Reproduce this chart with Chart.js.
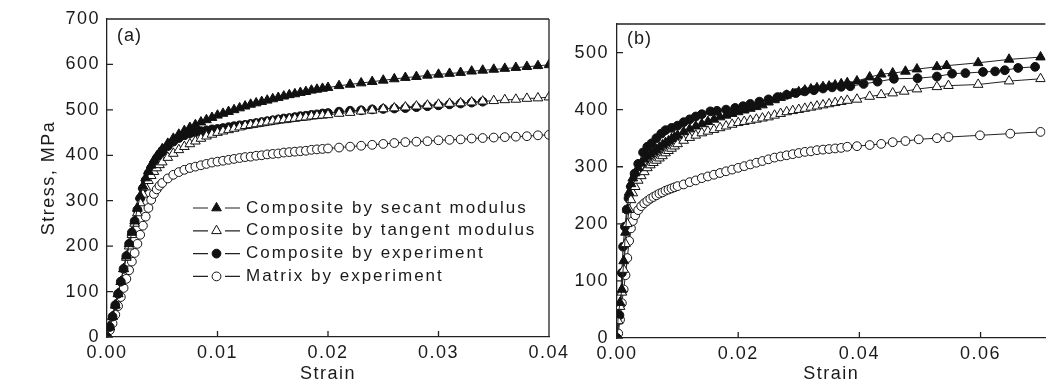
<!DOCTYPE html>
<html>
<head>
<meta charset="utf-8">
<script src="https://cdn.jsdelivr.net/npm/chart.js@4.4.1/dist/chart.umd.min.js"></script>
<style>
html, body { margin: 0; padding: 0; background: #fff; }
#wrap { position: relative; width: 1052px; height: 386px; overflow: hidden; }
canvas { position: absolute; top: 0; }
#chartA { left: 0; }
#chartB { left: 560px; }
</style>
</head>
<body>
<div id="wrap">
  <canvas id="chartA" width="590" height="386"></canvas>
  <canvas id="chartB" width="492" height="386"></canvas>
</div>
<script>
// ---- panel (a) data ----
const strainA = [0, 0.00025, 0.0005, 0.00075, 0.001, 0.00125, 0.0015, 0.00175, 0.002, 0.00225,
  0.0025, 0.00275, 0.003, 0.00325, 0.0035, 0.00375, 0.004, 0.00425, 0.0045, 0.00475,
  0.005, 0.0055, 0.006, 0.0065, 0.007, 0.0075, 0.008, 0.0085, 0.009, 0.0095,
  0.01, 0.0105, 0.011, 0.0115, 0.012, 0.0125, 0.013, 0.0135, 0.014, 0.0145,
  0.015, 0.0155, 0.016, 0.0165, 0.017, 0.0175, 0.018, 0.0185, 0.019, 0.0195,
  0.02, 0.021, 0.022, 0.023, 0.024, 0.025, 0.026, 0.027, 0.028, 0.029,
  0.03, 0.031, 0.032, 0.033, 0.034, 0.035, 0.036, 0.037, 0.038, 0.039, 0.04];
const secantA = [0, 22, 45, 70, 95, 122, 150, 178, 205, 230,
  255, 283, 310, 332, 350, 365, 378, 389, 398, 406,
  414, 426, 437, 446, 454, 461, 467, 473, 478, 483,
  488, 492, 496, 500, 504, 508, 512, 515, 518, 521,
  524, 527, 530, 533, 535, 538, 540, 543, 545, 547,
  549, 553, 556, 559, 562, 565, 568, 571, 573, 576,
  578, 580, 582, 585, 587, 589, 591, 593, 595, 597, 599];
const tangentA = [0, 22, 45, 70, 95, 122, 150, 175, 200, 225,
  250, 273, 295, 314, 330, 344, 355, 364, 372, 379,
  385, 395, 404, 412, 419, 425, 431, 437, 442, 446,
  450, 453, 456, 459, 462, 465, 467, 469, 471, 473,
  475, 477, 478, 480, 481, 483, 484, 486, 487, 488,
  489, 492, 494, 497, 499, 502, 504, 506, 508, 510,
  512, 514, 515, 517, 519, 520, 522, 523, 525, 526, 528];
// experiment stops at strain 0.034
const experimentA = [0, 22, 45, 70, 95, 122, 150, 178, 205, 230,
  255, 280, 305, 327, 345, 360, 372, 383, 393, 401,
  408, 420, 430, 438, 444, 448, 451, 453, 455, 457,
  458, 460, 462, 464, 466, 467, 469, 471, 473, 475,
  477, 479, 481, 482, 484, 486, 487, 489, 490, 492,
  493, 496, 498, 499, 501, 502, 503, 504, 506, 508,
  510, 512, 514, 516, 518];
const matrixA = [0, 15, 30, 49, 68, 88, 108, 128, 147, 166,
  185, 205, 225, 245, 265, 284, 302, 315, 325, 333,
  339, 349, 357, 363, 368, 372, 375, 378, 381, 384,
  386, 388, 390, 392, 394, 396, 397, 399, 400, 402,
  403, 404, 406, 407, 408, 409, 410, 412, 413, 414,
  415, 417, 419, 421, 423, 425, 427, 429, 430, 431,
  433, 434, 435, 437, 438, 439, 440, 441, 442, 444, 445];

// ---- panel (b) data ----
const strainB = [0, 0.0002, 0.0005, 0.0008, 0.0011, 0.0014, 0.0017, 0.002, 0.0023, 0.0026,
  0.003, 0.0035, 0.004, 0.0045, 0.005, 0.0055, 0.006, 0.0065, 0.007, 0.0075,
  0.008, 0.0085, 0.009, 0.0095,
  0.01, 0.011, 0.012, 0.013, 0.014, 0.015, 0.016, 0.017, 0.018, 0.019,
  0.02, 0.021, 0.022, 0.023, 0.024, 0.025, 0.026, 0.027, 0.028, 0.029,
  0.03, 0.031, 0.032, 0.033, 0.034, 0.035, 0.036, 0.037, 0.038];
const secantB = [0, 40, 62, 85, 135, 185, 225, 255, 270, 280,
  289, 298, 306, 313, 318, 322, 326, 330, 334, 338,
  342, 345, 349, 352,
  355, 361, 366, 371, 375, 379, 383, 387, 390, 393,
  396, 399, 402, 405, 408, 413, 417, 421, 425, 428,
  431, 434, 436, 438, 440, 441, 443, 445, 447];
const secantTailStrainB = [0.0396, 0.0417, 0.0436, 0.0455, 0.0476, 0.0495, 0.0528, 0.0544, 0.0596, 0.0647, 0.0699];
const secantTailB = [450, 457, 462, 464, 467, 471, 475, 477, 482, 488, 492];

const tangentB = [0, 30, 55, 80, 120, 165, 200, 225, 242, 254,
  265, 276, 284, 291, 298, 303, 307, 311, 315, 319,
  324, 328, 332, 336,
  340, 346, 351, 355, 359, 362, 365, 368, 371, 374,
  377, 379, 381, 383, 385, 387, 390, 393, 396, 398,
  400, 402, 404, 406, 408, 410, 412, 414, 416];
const tangentTailStrainB = [0.0396, 0.0417, 0.0436, 0.0455, 0.0474, 0.0495, 0.0528, 0.0547, 0.0596, 0.0647, 0.0699];
const tangentTailB = [418, 423, 426, 429, 432, 436, 440, 442, 444, 450, 454];

const expStrainB = [0, 0.0004, 0.0008, 0.001, 0.0013, 0.0016, 0.0019, 0.0023, 0.0029, 0.0035,
  0.0043, 0.005, 0.0057, 0.0065, 0.0073, 0.008, 0.009, 0.01, 0.011, 0.012,
  0.013, 0.014, 0.0154, 0.0165, 0.018, 0.0195, 0.0208, 0.022, 0.0235, 0.025,
  0.0265, 0.028, 0.0295, 0.031, 0.0325, 0.034, 0.0355, 0.037, 0.0385, 0.0407,
  0.043, 0.0457, 0.0496, 0.0528, 0.0553, 0.0575, 0.0604, 0.0624, 0.064, 0.0662, 0.069];
const experimentB = [0, 40, 114, 160, 195, 225, 245, 265, 288, 305,
  325, 335, 341, 350, 358, 364, 368, 372, 378, 383,
  388, 392, 397, 398, 400, 403, 406, 410, 414, 418,
  422, 426, 429, 432, 434, 437, 439, 440, 441, 445,
  449, 454, 455, 458, 463, 464, 466, 467, 469, 473, 475];

const matrixB = [0, 8, 32, 61, 85, 110, 140, 170, 192, 205,
  215, 224, 231, 236, 240, 244, 247, 250, 253, 255,
  258, 260, 262, 264,
  266, 269, 273, 276, 280, 283, 286, 289, 292, 295,
  298, 301, 304, 307, 310, 313, 316, 318, 320, 322,
  324, 326, 327, 329, 330, 331, 332, 333, 335];
const matrixTailStrainB = [0.0396, 0.0417, 0.0436, 0.0455, 0.0476, 0.0498, 0.0528, 0.0547, 0.0599, 0.0649, 0.0699];
const matrixTailB = [336, 338, 340, 343, 345, 348, 350, 352, 355, 358, 361];

const seriesNames = ["Composite by secant modulus", "Composite by tangent modulus",
  "Composite by experiment", "Matrix by experiment"];
const xTicksA = [0, 0.01, 0.02, 0.03, 0.04];
const yTicksA = [0, 100, 200, 300, 400, 500, 600, 700];
const xTicksB = [0, 0.02, 0.04, 0.06];
const yTicksB = [0, 100, 200, 300, 400, 500];

const FONT = '"Liberation Sans", Arial, sans-serif';
const INK = '#1a1a1a';
Chart.defaults.font.family = FONT;
Chart.defaults.font.size = 18;
Chart.defaults.color = INK;

function pts(xs, ys) {
  return ys.map((y, i) => ({ x: xs[i], y: y }));
}

function series(label, data, style, filled) {
  return {
    label: label,
    data: data,
    borderColor: '#222',
    borderWidth: 1,
    pointStyle: style,
    pointRadius: style === 'triangle' ? 5.6 : 4.4,
    pointBorderWidth: 1,
    pointBorderColor: '#111',
    pointBackgroundColor: filled ? '#111' : '#fff',
    tension: 0
  };
}

function drawMarker(ctx, style, x, y, r, fill) {
  ctx.beginPath();
  if (style === 'triangle') {
    ctx.moveTo(x, y - r);
    ctx.lineTo(x + r * 0.866, y + r / 2);
    ctx.lineTo(x - r * 0.866, y + r / 2);
    ctx.closePath();
  } else {
    ctx.arc(x, y, r, 0, Math.PI * 2);
  }
  ctx.fillStyle = fill;
  ctx.fill();
  ctx.strokeStyle = '#111';
  ctx.lineWidth = 1;
  ctx.stroke();
}

// box top/right line, inside tick marks and the panel tag
const framePlugin = {
  id: 'frame',
  beforeDraw(chart) {
    chart.ctx.letterSpacing = '1.5px';
  },
  afterDraw(chart, args, opts) {
    const ctx = chart.ctx;
    const a = chart.chartArea;
    const sx = chart.scales.x, sy = chart.scales.y;
    ctx.save();
    ctx.strokeStyle = '#222';
    ctx.lineWidth = 1.3;
    ctx.beginPath();
    ctx.moveTo(a.left, a.top);
    ctx.lineTo(a.right, a.top);
    if (opts.rightBorder) {
      ctx.moveTo(a.right, a.top);
      ctx.lineTo(a.right, a.bottom);
    }
    sx.ticks.forEach(t => {
      const px = sx.getPixelForValue(t.value);
      ctx.moveTo(px, a.bottom);
      ctx.lineTo(px, a.bottom - 6);
    });
    sy.ticks.forEach(t => {
      const py = sy.getPixelForValue(t.value);
      ctx.moveTo(a.left, py);
      ctx.lineTo(a.left + 6, py);
    });
    ctx.stroke();
    ctx.fillStyle = INK;
    ctx.font = '18px ' + FONT;
    ctx.letterSpacing = '1px';
    ctx.textAlign = 'left';
    ctx.textBaseline = 'middle';
    ctx.fillText(opts.tag, a.left + 10, a.top + opts.tagDy);
    ctx.restore();
  }
};

const legendPlugin = {
  id: 'sideLegend',
  afterDraw(chart) {
    const ctx = chart.ctx;
    ctx.save();
    ctx.font = '17px ' + FONT;
    ctx.letterSpacing = '2px';
    ctx.textBaseline = 'middle';
    ctx.textAlign = 'left';
    chart.data.datasets.forEach((ds, i) => {
      const y = 208 + i * 22.8;
      ctx.strokeStyle = '#222';
      ctx.lineWidth = 1.2;
      ctx.beginPath();
      ctx.moveTo(193, y); ctx.lineTo(208, y);
      ctx.moveTo(225, y); ctx.lineTo(240, y);
      ctx.stroke();
      drawMarker(ctx, ds.pointStyle, 216.5, y, ds.pointRadius, ds.pointBackgroundColor);
      ctx.fillStyle = INK;
      ctx.fillText(ds.label, 246, y);
    });
    ctx.restore();
  }
};

function makeOptions(o) {
  return {
    responsive: false,
    animation: false,
    layout: { padding: o.padding },
    plugins: {
      legend: { display: false },
      tooltip: { enabled: false },
      frame: { tag: o.tag, tagDy: o.tagDy, rightBorder: o.rightBorder }
    },
    scales: {
      x: {
        type: 'linear',
        position: 'bottom',
        min: 0,
        max: o.xMax,
        afterBuildTicks: s => { s.ticks = o.xTicks.map(v => ({ value: v })); },
        afterFit: s => { s.height = o.xHeight; },
        ticks: { padding: 5, maxRotation: 0, callback: v => v.toFixed(2) },
        grid: { drawOnChartArea: false, drawTicks: false },
        border: { display: true, color: '#222', width: 1.3 },
        title: { display: true, text: 'Strain', padding: { top: 0, bottom: 1 } }
      },
      y: {
        min: 0,
        max: o.yMax,
        afterBuildTicks: s => { s.ticks = o.yTicks.map(v => ({ value: v })); },
        afterFit: s => { s.width = o.yWidth; },
        ticks: { padding: o.yPad, callback: v => String(v) },
        grid: { drawOnChartArea: false, drawTicks: false },
        border: { display: true, color: '#222', width: 1.3 },
        title: { display: o.yTitle, text: 'Stress, MPa', padding: { top: 38, bottom: 0 } }
      }
    }
  };
}

new Chart(document.getElementById('chartA'), {
  type: 'line',
  data: {
    datasets: [
      series(seriesNames[0], pts(strainA, secantA), 'triangle', true),
      series(seriesNames[1], pts(strainA, tangentA), 'triangle', false),
      series(seriesNames[2], pts(strainA, experimentA), 'circle', true),
      series(seriesNames[3], pts(strainA, matrixA), 'circle', false)
    ]
  },
  options: makeOptions({
    padding: { left: 0, right: 41, top: 19, bottom: 0 },
    xMax: 0.04, yMax: 700, xTicks: xTicksA, yTicks: yTicksA,
    xHeight: 49, yWidth: 107, yPad: 7, yTitle: true,
    tag: '(a)', tagDy: 17, rightBorder: true
  }),
  plugins: [framePlugin, legendPlugin]
});

new Chart(document.getElementById('chartB'), {
  type: 'line',
  data: {
    datasets: [
      series(seriesNames[0], pts(strainB.concat(secantTailStrainB), secantB.concat(secantTailB)), 'triangle', true),
      series(seriesNames[1], pts(strainB.concat(tangentTailStrainB), tangentB.concat(tangentTailB)), 'triangle', false),
      series(seriesNames[2], pts(expStrainB, experimentB), 'circle', true),
      series(seriesNames[3], pts(strainB.concat(matrixTailStrainB), matrixB.concat(matrixTailB)), 'circle', false)
    ]
  },
  options: makeOptions({
    padding: { left: 0, right: 0, top: 24, bottom: 0 },
    xMax: 0.0707, yMax: 550, xTicks: xTicksB, yTicks: yTicksB,
    xHeight: 48, yWidth: 57, yPad: 8, yTitle: false,
    tag: '(b)', tagDy: 15, rightBorder: false
  }),
  plugins: [framePlugin]
});
</script>
</body>
</html>
